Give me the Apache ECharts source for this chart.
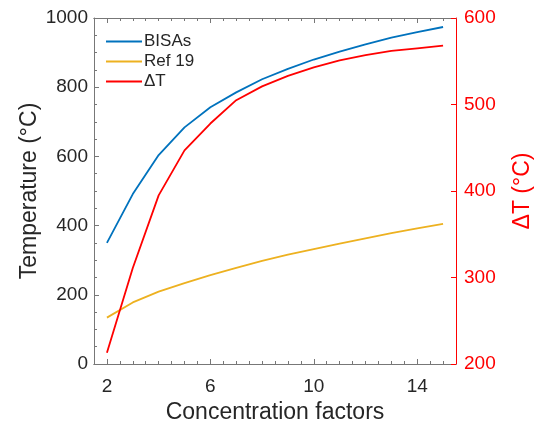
<!DOCTYPE html>
<html>
<head>
<meta charset="utf-8">
<script src="https://cdn.jsdelivr.net/npm/echarts@6/dist/echarts.min.js"></script>
<style>html,body{margin:0;padding:0;background:#fff}#c{width:534px;height:424px}</style>
</head>
<body>
<div id="c"></div>
<script>
var xValues = [2, 3, 4, 5, 6, 7, 8, 9, 10, 11, 12, 13, 14, 15];
var bisas = [350, 491, 604, 684, 742, 785, 823, 853, 880, 903, 924, 943, 959, 974];
var ref19 = [134, 178, 209, 234, 257, 278, 298, 316, 332, 348, 363, 378, 392, 405];
var deltaT = [213, 311, 395, 447, 478, 505, 521, 533, 543, 551, 557, 562, 565, 568];
var xMajorTicks = [2, 6, 10, 14];
var xMinorTicks = [2, 2.5, 3, 3.5, 4, 4.5, 5, 5.5, 6, 6.5, 7, 7.5, 8, 8.5, 9, 9.5, 10, 10.5, 11, 11.5, 12, 12.5, 13, 13.5, 14, 14.5, 15];
var seriesNames = ['BISAs', 'Ref 19', '\u0394T'];

function pairs(ys) { return xValues.map(function (x, i) { return [x, ys[i]]; }); }

var FONT = 'Arial, "Liberation Sans", sans-serif';
var GRAY = '#777777';
var TXT = '#262626';
var RED = '#ff0000';

function xAxis(pos, ticks, len, labels) {
  return {
    type: 'value', position: pos, min: 1.5, max: 15.5,
    axisLine: { show: true, lineStyle: { color: GRAY, width: 1 } },
    axisTick: { show: true, inside: true, length: len, customValues: ticks, lineStyle: { color: GRAY } },
    axisLabel: labels ? { show: true, customValues: xMajorTicks, color: TXT, fontSize: 19, fontFamily: FONT, margin: 13 } : { show: false },
    splitLine: { show: false }
  };
}

var chart = echarts.init(document.getElementById('c'), null, { renderer: 'canvas' });
var xa0 = xAxis('bottom', xMajorTicks, 5, true);
xa0.name = 'Concentration factors';
xa0.nameLocation = 'middle';
xa0.nameGap = 37;
xa0.nameMoveOverlap = false;
xa0.nameTextStyle = { color: TXT, fontSize: 23, fontFamily: FONT };

chart.setOption({
  animation: false,
  backgroundColor: '#fff',
  grid: { left: 94, right: 78, top: 18, bottom: 60, containLabel: false, outerBoundsMode: 'none' },
  legend: {
    orient: 'vertical', left: 101, top: 28, itemGap: 3,
    itemWidth: 36, itemHeight: 2, icon: 'rect',
    textStyle: { color: TXT, fontSize: 17, fontFamily: FONT, padding: [0, 0, 0, -3] },
    data: seriesNames
  },
  xAxis: [
    xa0,
    xAxis('bottom', xMinorTicks, 3, false),
    xAxis('top', xMajorTicks, 5, false),
    xAxis('top', xMinorTicks, 3, false)
  ],
  yAxis: [
    {
      type: 'value', min: 0, max: 1000, interval: 200, position: 'left',
      name: 'Temperature (\u00b0C)', nameLocation: 'middle', nameGap: 53, nameMoveOverlap: false,
      nameTextStyle: { color: TXT, fontSize: 23, fontFamily: FONT },
      axisLine: { show: true, lineStyle: { color: GRAY } },
      axisTick: { show: true, inside: true, length: 5, lineStyle: { color: GRAY } },
      minorTick: { show: true, splitNumber: 4, length: 3, lineStyle: { color: GRAY } },
      axisLabel: { color: TXT, fontSize: 19, fontFamily: FONT, margin: 6, formatter: function (v) { return String(v); } },
      splitLine: { show: false }
    },
    {
      type: 'value', min: 200, max: 600, interval: 100, position: 'right',
      name: '\u0394T (\u00b0C)', nameLocation: 'middle', nameGap: 55, nameMoveOverlap: false,
      nameTextStyle: { color: RED, fontSize: 23, fontFamily: FONT },
      axisLine: { show: true, lineStyle: { color: RED } },
      axisTick: { show: true, inside: true, length: 5, lineStyle: { color: RED } },
      axisLabel: { color: RED, fontSize: 19, fontFamily: FONT, margin: 8, formatter: function (v) { return String(v); } },
      splitLine: { show: false }
    }
  ],
  series: [
    { name: seriesNames[0], type: 'line', xAxisIndex: 0, yAxisIndex: 0, data: pairs(bisas), showSymbol: false, symbol: 'none', lineStyle: { color: '#0072bd', width: 1.8 }, itemStyle: { color: '#0072bd' } },
    { name: seriesNames[1], type: 'line', xAxisIndex: 0, yAxisIndex: 0, data: pairs(ref19), showSymbol: false, symbol: 'none', lineStyle: { color: '#edb120', width: 1.8 }, itemStyle: { color: '#edb120' } },
    { name: seriesNames[2], type: 'line', xAxisIndex: 0, yAxisIndex: 1, data: pairs(deltaT), showSymbol: false, symbol: 'none', lineStyle: { color: RED, width: 1.8 }, itemStyle: { color: RED } }
  ]
});
</script>
</body>
</html>
